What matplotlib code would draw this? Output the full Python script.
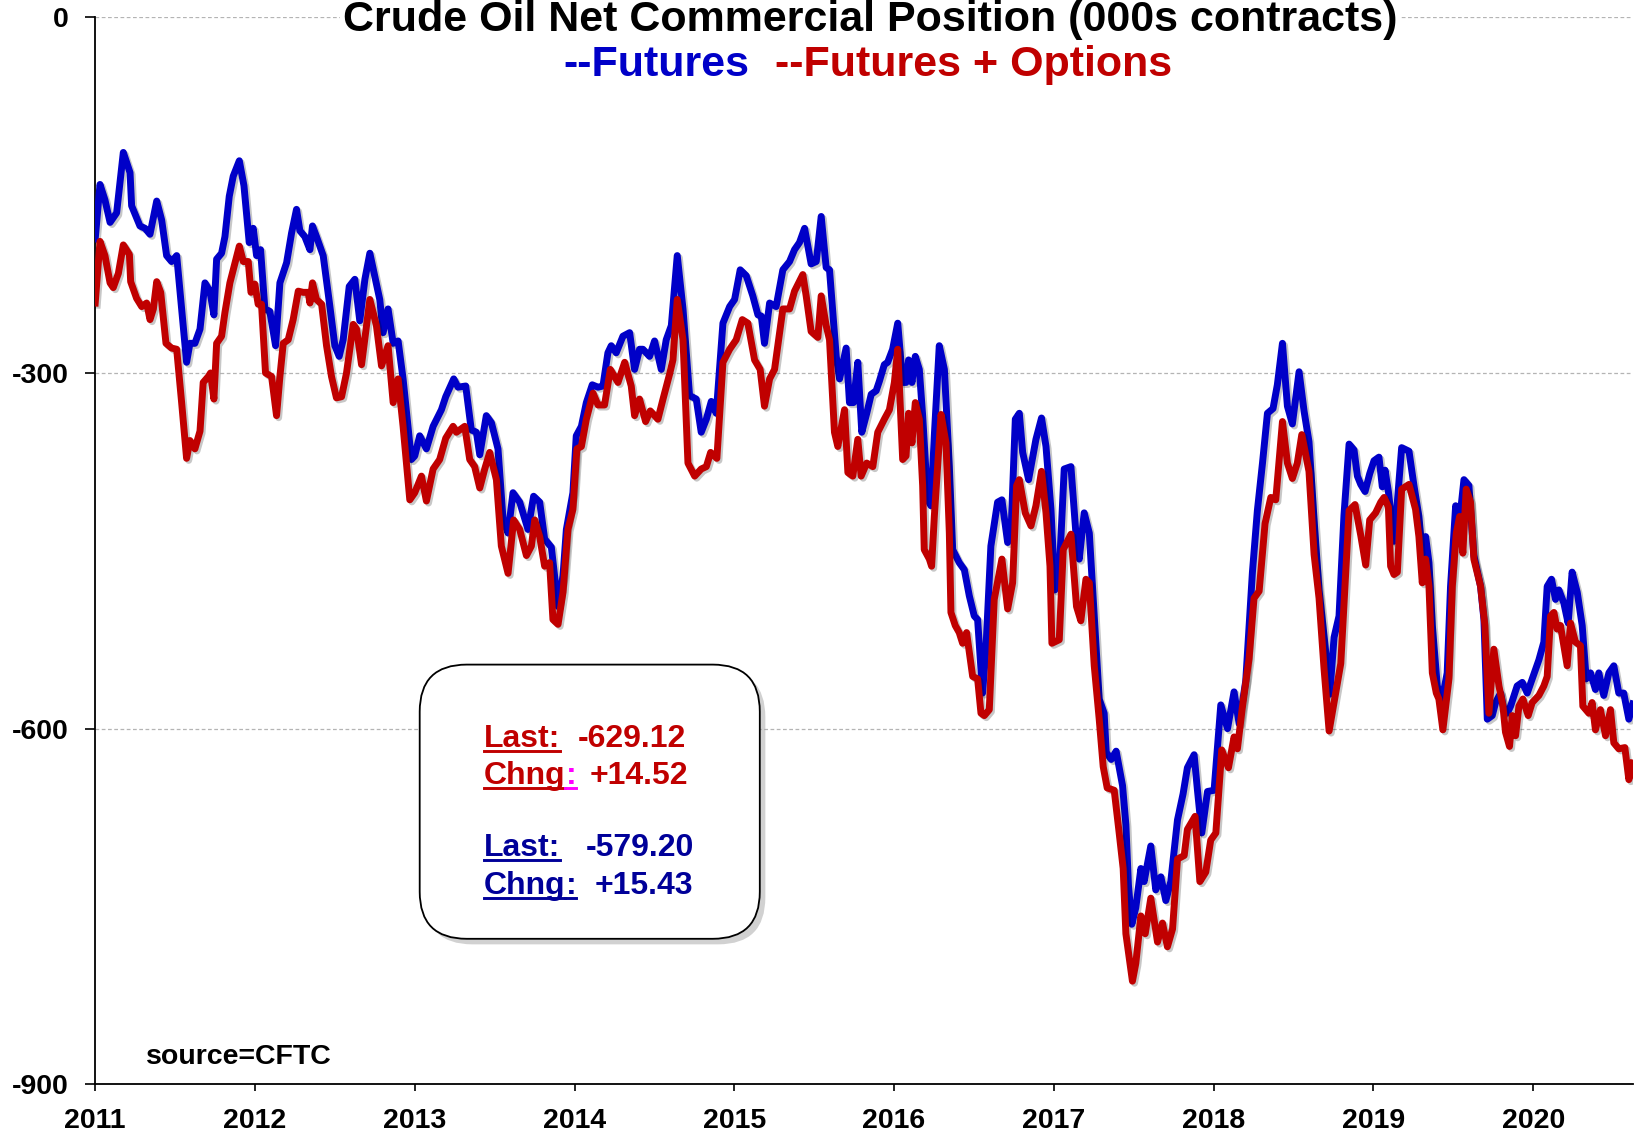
import matplotlib
matplotlib.use('Agg')
import matplotlib.pyplot as plt
import matplotlib.patheffects as pe
from matplotlib.patches import FancyBboxPatch
from matplotlib.lines import Line2D
from matplotlib.transforms import IdentityTransform

plt.rcParams['font.family'] = ['Liberation Sans', 'DejaVu Sans']
plt.rcParams['font.weight'] = 'bold'

### data, x = decimal year, y = net commercial position (000s contracts)
# futures only (blue)
fut_dates = [
    2011.000, 2011.030, 2011.061, 2011.093, 2011.134, 2011.176, 2011.218, 2011.228, 2011.280, 2011.312,
    2011.343, 2011.385, 2011.416, 2011.447, 2011.478, 2011.510, 2011.541, 2011.572, 2011.593, 2011.624,
    2011.656, 2011.687, 2011.718, 2011.743, 2011.760, 2011.791, 2011.812, 2011.839, 2011.864, 2011.902,
    2011.931, 2011.964, 2011.989, 2012.010, 2012.035, 2012.062, 2012.093, 2012.129, 2012.156, 2012.198,
    2012.229, 2012.260, 2012.281, 2012.312, 2012.344, 2012.360, 2012.385, 2012.427, 2012.469, 2012.500,
    2012.527, 2012.552, 2012.590, 2012.625, 2012.656, 2012.688, 2012.719,
    2012.781, 2012.802, 2012.833, 2012.865, 2012.896, 2012.927, 2012.979, 2013.000, 2013.031, 2013.073,
    2013.115, 2013.167, 2013.194, 2013.244, 2013.271, 2013.319, 2013.354, 2013.386, 2013.407, 2013.448,
    2013.480, 2013.521, 2013.553, 2013.584, 2013.615, 2013.657, 2013.709, 2013.744, 2013.782, 2013.813,
    2013.855, 2013.897, 2013.928, 2013.949, 2013.990, 2014.011, 2014.043, 2014.074, 2014.111, 2014.147,
    2014.178, 2014.209, 2014.230, 2014.261, 2014.303, 2014.345, 2014.376, 2014.407,
    2014.428, 2014.470, 2014.501, 2014.543, 2014.574, 2014.606, 2014.643, 2014.679, 2014.720, 2014.762,
    2014.793, 2014.825, 2014.856, 2014.887, 2014.929, 2014.971, 2015.002, 2015.037, 2015.075, 2015.116,
    2015.148, 2015.169, 2015.189, 2015.221, 2015.262, 2015.304, 2015.346, 2015.377, 2015.408, 2015.440,
    2015.481, 2015.513, 2015.544, 2015.575, 2015.596, 2015.638, 2015.659, 2015.700, 2015.721, 2015.746,
    2015.773, 2015.798, 2015.829, 2015.857, 2015.888,
    2015.908, 2015.939, 2015.960, 2015.991, 2016.023, 2016.054, 2016.075, 2016.091, 2016.112, 2016.133,
    2016.158, 2016.179, 2016.210, 2016.231, 2016.252, 2016.283, 2016.315, 2016.346, 2016.367, 2016.408,
    2016.440, 2016.471, 2016.502, 2016.523, 2016.554, 2016.575, 2016.606, 2016.648, 2016.675, 2016.711,
    2016.732, 2016.759, 2016.784, 2016.805, 2016.842, 2016.888, 2016.923, 2016.951, 2016.982, 2017.007,
    2017.034, 2017.065, 2017.107, 2017.138, 2017.159, 2017.190, 2017.222, 2017.253, 2017.284, 2017.315,
    2017.328, 2017.359, 2017.390,
    2017.409, 2017.430, 2017.451, 2017.467, 2017.488, 2017.513, 2017.545, 2017.565, 2017.607, 2017.638,
    2017.670, 2017.701, 2017.732, 2017.774, 2017.809, 2017.836, 2017.878, 2017.899, 2017.926, 2017.962,
    2018.003, 2018.045, 2018.087, 2018.128, 2018.160, 2018.201, 2018.243, 2018.274, 2018.306, 2018.337,
    2018.372, 2018.399, 2018.431, 2018.462, 2018.493, 2018.535, 2018.566, 2018.597, 2018.629, 2018.660,
    2018.698, 2018.727, 2018.754, 2018.785, 2018.816, 2018.848, 2018.879, 2018.900, 2018.921, 2018.948,
    2018.977, 2019.004, 2019.035, 2019.056, 2019.073, 2019.094, 2019.129,
    2019.150, 2019.177, 2019.223, 2019.254, 2019.285, 2019.306, 2019.327, 2019.348, 2019.369, 2019.400,
    2019.431, 2019.462, 2019.483, 2019.515, 2019.540, 2019.567, 2019.598, 2019.629, 2019.671, 2019.692,
    2019.713, 2019.744, 2019.765, 2019.796, 2019.817, 2019.838, 2019.859, 2019.900, 2019.932, 2019.963,
    2019.994, 2020.036, 2020.067, 2020.088, 2020.115, 2020.140, 2020.161, 2020.192, 2020.219, 2020.244,
    2020.276, 2020.307, 2020.332, 2020.359, 2020.390, 2020.411, 2020.442, 2020.474, 2020.505, 2020.536,
    2020.567, 2020.599, 2020.624,
]
fut_vals = [
    -187, -141, -154, -173, -165, -114, -131, -159, -176, -178,
    -183, -155, -171, -201, -206, -201, -246, -291, -275, -275,
    -263, -224, -231, -251, -204, -199, -185, -151, -134, -121,
    -142, -190, -178, -201, -196, -246, -248, -277, -224, -207,
    -182, -162, -180, -185, -196, -176, -185, -201, -244, -277,
    -286, -272, -227, -221, -256, -221, -199,
    -238, -266, -246, -275, -273, -305, -373, -370, -353, -364,
    -345, -331, -320, -305, -312, -311, -348, -350, -369, -336,
    -342, -364, -424, -435, -401, -409, -432, -404, -409, -440,
    -447, -497, -471, -432, -401, -353, -345, -325, -310, -312,
    -311, -283, -277, -283, -269, -266, -297, -280,
    -280, -286, -273, -297, -272, -260, -201, -246, -319, -322,
    -350, -339, -324, -334, -258, -244, -238, -213, -218, -235,
    -251, -252, -275, -241, -244, -213, -206, -196, -190, -178,
    -208, -206, -168, -211, -213, -286, -305, -279, -325, -325,
    -291, -350, -334, -318, -315,
    -307, -293, -291, -280, -258, -308, -308, -289, -308, -286,
    -297, -336, -407, -412, -353, -277, -297, -379, -449, -460,
    -466, -488, -505, -508, -570, -533, -446, -409, -407, -443,
    -435, -339, -334, -367, -390, -356, -338, -362, -415, -483,
    -468, -381, -379, -435, -457, -418, -435, -505, -575, -587,
    -620, -626, -619,
    -633, -648, -681, -732, -765, -751, -718, -729, -699, -736,
    -725, -745, -729, -677, -655, -633, -622, -652, -688, -653,
    -652, -580, -600, -569, -596, -560, -468, -416, -376, -334,
    -330, -310, -275, -328, -343, -299, -332, -358, -424, -483,
    -530, -571, -523, -505, -420, -360, -365, -387, -394, -400,
    -385, -374, -371, -396, -382, -400, -442,
    -409, -363, -366, -395, -421, -452, -438, -460, -513, -564,
    -575, -553, -480, -412, -424, -390, -395, -454, -480, -508,
    -592, -589, -578, -570, -584, -587, -581, -564, -561, -570,
    -558, -542, -527, -480, -474, -491, -483, -494, -511, -468,
    -485, -513, -558, -553, -567, -553, -572, -553, -547, -570,
    -570, -592, -579.20,
]

# futures + options (red)
fo_dates = [
    2011.000, 2011.030, 2011.061, 2011.093, 2011.113, 2011.145, 2011.176, 2011.214, 2011.222, 2011.259,
    2011.291, 2011.322, 2011.343, 2011.364, 2011.385, 2011.410, 2011.443, 2011.478, 2011.510, 2011.541,
    2011.572, 2011.593, 2011.624, 2011.656, 2011.676, 2011.708, 2011.722, 2011.743, 2011.760, 2011.791,
    2011.812, 2011.843, 2011.868, 2011.902, 2011.927, 2011.958, 2011.975, 2011.999, 2012.020, 2012.041,
    2012.066, 2012.104, 2012.135, 2012.156, 2012.177, 2012.208, 2012.239, 2012.271, 2012.302, 2012.333,
    2012.344, 2012.360, 2012.385, 2012.417, 2012.448, 2012.479, 2012.510, 2012.542, 2012.573, 2012.615,
    2012.636, 2012.667, 2012.719,
    2012.760, 2012.792, 2012.833, 2012.865, 2012.896, 2012.927, 2012.969, 2013.000, 2013.042, 2013.073,
    2013.115, 2013.156, 2013.194, 2013.240, 2013.261, 2013.313, 2013.344, 2013.375, 2013.407, 2013.438,
    2013.469, 2013.511, 2013.542, 2013.584, 2013.619, 2013.657, 2013.699, 2013.730, 2013.751, 2013.782,
    2013.813, 2013.844, 2013.865, 2013.897, 2013.928, 2013.959, 2013.990, 2014.015, 2014.043, 2014.074,
    2014.116, 2014.147, 2014.188, 2014.224, 2014.272, 2014.314, 2014.355, 2014.376, 2014.407,
    2014.445, 2014.474, 2014.501, 2014.522, 2014.554, 2014.595, 2014.616, 2014.643, 2014.679, 2014.710,
    2014.752, 2014.793, 2014.825, 2014.852, 2014.891, 2014.929, 2014.971, 2015.012, 2015.050, 2015.085,
    2015.127, 2015.162, 2015.189, 2015.221, 2015.252, 2015.304, 2015.346, 2015.377, 2015.429, 2015.450,
    2015.481, 2015.523, 2015.544, 2015.575, 2015.596, 2015.627, 2015.648, 2015.690, 2015.711, 2015.742,
    2015.773, 2015.794, 2015.829, 2015.867, 2015.898,
    2015.939, 2015.971, 2016.002, 2016.023, 2016.054, 2016.075, 2016.091, 2016.112, 2016.133, 2016.158,
    2016.179, 2016.189, 2016.221, 2016.235, 2016.252, 2016.294, 2016.325, 2016.346, 2016.356, 2016.383,
    2016.408, 2016.429, 2016.454, 2016.492, 2016.523, 2016.544, 2016.565, 2016.596, 2016.627, 2016.675,
    2016.711, 2016.742, 2016.767, 2016.784, 2016.821, 2016.857, 2016.888, 2016.923, 2016.951, 2016.976,
    2016.988, 2017.034, 2017.059, 2017.107, 2017.142, 2017.169, 2017.201, 2017.222, 2017.253, 2017.284,
    2017.309, 2017.334, 2017.378,
    2017.409, 2017.434, 2017.451, 2017.492, 2017.513, 2017.545, 2017.572, 2017.607, 2017.649, 2017.680,
    2017.711, 2017.743, 2017.774, 2017.816, 2017.836, 2017.884, 2017.914, 2017.951, 2017.982, 2018.014,
    2018.051, 2018.093, 2018.128, 2018.149, 2018.180, 2018.222, 2018.253, 2018.285, 2018.322, 2018.358,
    2018.389, 2018.431, 2018.462, 2018.493, 2018.524, 2018.552, 2018.597, 2018.629, 2018.660, 2018.691,
    2018.723, 2018.796, 2018.848, 2018.885, 2018.921, 2018.952, 2018.977, 2019.014, 2019.046, 2019.067,
    2019.094,
    2019.108, 2019.129, 2019.150, 2019.177, 2019.223, 2019.264, 2019.285, 2019.306, 2019.327, 2019.348,
    2019.369, 2019.394, 2019.410, 2019.435, 2019.473, 2019.494, 2019.519, 2019.540, 2019.560, 2019.581,
    2019.608, 2019.629, 2019.671, 2019.698, 2019.723, 2019.754, 2019.786, 2019.811, 2019.827, 2019.852,
    2019.869, 2019.890, 2019.911, 2019.936, 2019.969, 2019.994, 2020.036, 2020.067, 2020.088, 2020.109,
    2020.130, 2020.150, 2020.171, 2020.213, 2020.234, 2020.265, 2020.296, 2020.311, 2020.349, 2020.369,
    2020.390, 2020.421, 2020.453, 2020.484, 2020.505, 2020.536, 2020.574, 2020.599, 2020.624,
]
fo_vals = [
    -241, -189, -201, -224, -228, -216, -192, -200, -223, -237,
    -244, -241, -255, -246, -223, -232, -275, -279, -280, -325,
    -372, -357, -364, -349, -308, -303, -300, -322, -275, -269,
    -249, -224, -211, -193, -206, -206, -232, -225, -242, -242,
    -300, -303, -336, -303, -275, -272, -255, -231, -232, -232,
    -241, -224, -238, -242, -277, -303, -321, -320, -300, -259,
    -263, -293, -238,
    -260, -294, -277, -325, -305, -345, -407, -401, -387, -408,
    -381, -373, -355, -345, -350, -345, -373, -379, -397, -381,
    -367, -390, -446, -469, -424, -432, -454, -446, -424, -438,
    -463, -460, -508, -512, -485, -432, -415, -364, -362, -339,
    -317, -327, -327, -297, -308, -291, -311, -336, -322,
    -341, -332, -336, -339, -322, -301, -289, -238, -272, -376,
    -387, -381, -379, -367, -372, -291, -280, -272, -255, -258,
    -289, -297, -328, -305, -297, -246, -246, -231, -217, -235,
    -265, -270, -235, -260, -272, -350, -362, -331, -384, -387,
    -356, -387, -376, -379, -350,
    -339, -331, -308, -280, -373, -370, -334, -359, -325, -339,
    -395, -449, -457, -463, -421, -335, -359, -435, -502, -513,
    -519, -528, -519, -556, -558, -587, -589, -584, -491, -457,
    -499, -477, -395, -390, -418, -429, -412, -383, -418, -463,
    -528, -525, -449, -436, -497, -509, -474, -477, -547, -592,
    -632, -650, -652,
    -688, -718, -773, -813, -798, -758, -773, -743, -780, -764,
    -784, -769, -710, -707, -685, -674, -729, -721, -694, -688,
    -618, -633, -607, -617, -582, -541, -490, -484, -427, -405,
    -407, -341, -376, -389, -376, -352, -383, -453, -490, -549,
    -602, -545, -416, -411, -437, -462, -424, -418, -409, -405,
    -413,
    -463, -470, -468, -398, -394, -415, -438, -477, -457, -480,
    -553, -570, -575, -601, -558, -480, -435, -421, -452, -398,
    -409, -457, -480, -513, -587, -533, -564, -581, -603, -615,
    -589, -606, -581, -575, -589, -578, -572, -564, -556, -505,
    -502, -516, -513, -547, -511, -527, -530, -581, -587, -578,
    -601, -584, -606, -584, -612, -617, -616, -643, -629.12,
]

years = list(range(2011, 2021))
y_ticks = [-900, -600, -300, 0]
y_labels = ['-900', '-600', '-300', '0']

last_fo, chng_fo = '-629.12', '+14.52'
last_fut, chng_fut = '-579.20', '+15.43'

BLUE = '#0000C8'
RED = '#C00000'
W, H = 1641, 1135

fig = plt.figure(figsize=(W / 100, H / 100), dpi=100)
ax = fig.add_axes([95.2 / W, 1 - 1084.3 / H, (1633 - 95.2) / W, (1084.3 - 17.3) / H])

shadow = [pe.SimpleLineShadow(offset=(1.5, -1.5), shadow_color='k', alpha=0.22), pe.Normal()]
ax.plot(fut_dates, fut_vals, color=BLUE, lw=5, solid_joinstyle='round', path_effects=shadow, zorder=3)
ax.plot(fo_dates, fo_vals, color=RED, lw=5, solid_joinstyle='round', path_effects=shadow, zorder=4)

ax.set_xlim(2011, 2020.625)
ax.set_ylim(-900, 0)
ax.set_xticks(years)
ax.set_xticklabels([str(y) for y in years])
ax.set_yticks(y_ticks)
ax.set_yticklabels(y_labels)
ax.grid(axis='y', color='#b4b4b4', lw=0.9, ls=(0, (3, 2)), zorder=0)
for s in ['top', 'right']:
    ax.spines[s].set_visible(False)
for s in ['left', 'bottom']:
    ax.spines[s].set_linewidth(1.3)
ax.tick_params(axis='y', direction='out', length=7, width=1.2, labelsize=20.5, pad=12)
ax.tick_params(axis='x', direction='out', length=5, width=1.2, labelsize=20.5, pad=12)
for lab in ax.get_xticklabels() + ax.get_yticklabels():
    lab.set_fontweight('bold')


def fx(x):
    return x / W


def fy(y):
    return 1 - y / H


### title + legend line
fig.text(fx(870), fy(31), 'Crude Oil Net Commercial Position (000s contracts)', ha='center', va='baseline',
         fontsize=31, weight='bold', bbox=dict(fc='white', ec='none', pad=2))
fig.text(fx(563.8), fy(76), '--Futures', ha='left', va='baseline', fontsize=31, weight='bold', color=BLUE)
fig.text(fx(775), fy(76), '--Futures + Options', ha='left', va='baseline', fontsize=31, weight='bold', color=RED)

fig.text(fx(146.4), fy(1064), 'source=CFTC', ha='left', va='baseline', fontsize=20.5, weight='bold')

### stats box
box = FancyBboxPatch((419.7, H - 938.8), 340.1, 274.2, boxstyle='round,pad=0,rounding_size=47',
                     transform=IdentityTransform(), fc='white', ec='black', lw=1.3,
                     path_effects=[pe.SimplePatchShadow(offset=(4, -4), shadow_rgbFace='#999999', alpha=0.45),
                                   pe.Normal()])
fig.add_artist(box)

renderer = fig.canvas.get_renderer()


def underline(t, color, base):
    bb = t.get_window_extent(renderer=renderer)
    y = H - (base + 4)
    fig.add_artist(Line2D([bb.x0, bb.x1], [y, y], transform=IdentityTransform(), color=color, lw=2.1))
    return bb


def stat_rows(base1, base2, val1, val2, x1, x2, color, colon_color):
    t = fig.text(fx(483.8), fy(base1), 'Last:', ha='left', va='baseline', fontsize=23, weight='bold', color=color)
    underline(t, color, base1)
    fig.text(fx(x1), fy(base1), val1, ha='left', va='baseline', fontsize=23, weight='bold', color=color)
    t = fig.text(fx(483.8), fy(base2), 'Chng', ha='left', va='baseline', fontsize=23, weight='bold', color=color)
    bb = underline(t, color, base2)
    c = fig.text(fx(bb.x1), fy(base2), ':', ha='left', va='baseline', fontsize=23, weight='bold', color=colon_color)
    underline(c, colon_color, base2)
    fig.text(fx(x2), fy(base2), val2, ha='left', va='baseline', fontsize=23, weight='bold', color=color)


stat_rows(747, 784, last_fo, chng_fo, 578, 590, RED, '#FF00FF')
stat_rows(856, 894, last_fut, chng_fut, 586, 595, '#000099', '#000099')

fig.savefig('out.png', dpi=100)
